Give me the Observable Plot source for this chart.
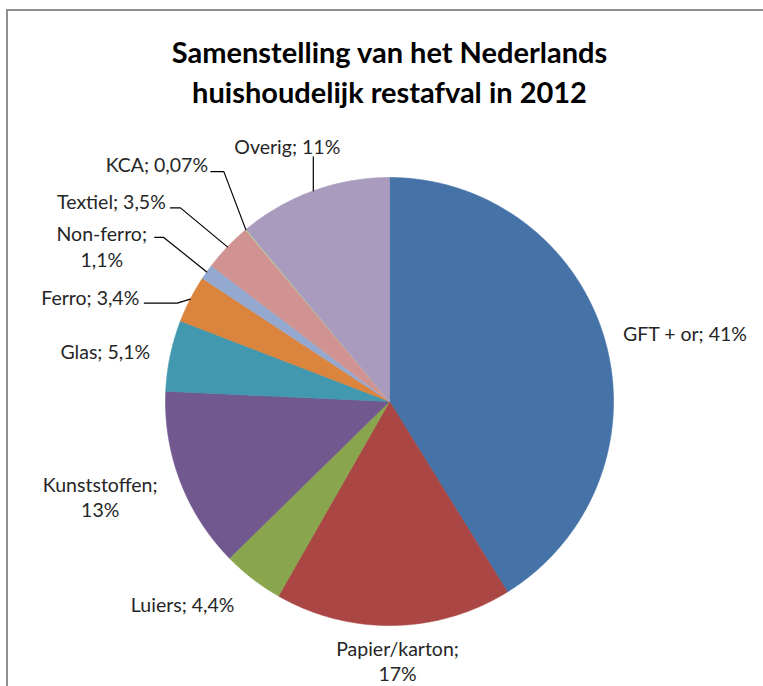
<!DOCTYPE html>
<html>
<head>
<meta charset="utf-8">
<script src="https://cdn.jsdelivr.net/npm/d3@7"></script>
<script src="https://cdn.jsdelivr.net/npm/@observablehq/plot@0.6"></script>
<style>
  html, body { margin: 0; padding: 0; background: #fff; }
  #wrap { position: relative; width: 763px; height: 686px; overflow: hidden; }
  #border { position: absolute; left: 6px; top: 9px; right: -10px; bottom: -10px;
            border-top: 2px solid #8f8f8f; border-left: 2px solid #8f8f8f; }
  #chart { position: absolute; left: 0; top: 0; }
</style>
</head>
<body>
<div id="wrap"><div id="border"></div><div id="chart"></div></div>
<script>
// ---- data ----
const categories = ["GFT + or", "Papier/karton", "Luiers", "Kunststoffen", "Glas", "Ferro", "Non-ferro", "Textiel", "KCA", "Overig"];
const values = [41, 17, 4.4, 13, 5.1, 3.4, 1.1, 3.5, 0.07, 11];
const labelTexts = ["GFT + or; 41%", "Papier/karton;\n17%", "Luiers; 4,4%", "Kunststoffen;\n13%", "Glas; 5,1%", "Ferro; 3,4%", "Non-ferro;\n1,1%", "Textiel; 3,5%", "KCA; 0,07%", "Overig; 11%"];
const titleText = "Samenstelling van het Nederlands\nhuishoudelijk restafval in 2012";

// ---- style / layout ----
const colors = ["#4572A7", "#AA4643", "#89A54E", "#71588F", "#4198AF", "#DB843D", "#93A9CF", "#D19392", "#B9CD96", "#A99BBD"];
const W = 763, H = 686, CX = 389, CY = 401, R = 224;
// label centre offset (px) from the slice's rim midpoint
const labelOffsets = [[80, -7], [4, 35], [-70, 25], [-80, 15], [-65, -5], [-100, -2], [-105, -26], [-116, -46], [-89, -66], [-26, -45]];
// leader line: [end, elbow] offsets (px) from the label centre
const leaderOffsets = {
  "Ferro": [[54, 6], [87, 6]],
  "Non-ferro": [[53, -8.5], [62, -8.5]],
  "Textiel": [[59, 7], [69, 7]],
  "KCA": [[54, 8], [67, 8]],
  "Overig": [[26, 11], [26, 11]]
};

const k = 1 / R; // px -> data units
const arcs = d3.pie().sort(null).value(d => d)(values);

const slices = [];
arcs.forEach((a, i) => {
  const name = categories[i];
  slices.push({name, x: 0, y: 0});
  const n = Math.max(2, Math.ceil((a.endAngle - a.startAngle) / (Math.PI / 360)));
  for (let j = 0; j <= n; j++) {
    const t = a.startAngle + (a.endAngle - a.startAngle) * j / n;
    slices.push({name, x: Math.sin(t), y: Math.cos(t)});
  }
  slices.push({name, x: 0, y: 0});
});

const labels = arcs.map((a, i) => {
  const m = (a.startAngle + a.endAngle) / 2;
  const [dx, dy] = labelOffsets[i];
  return {name: categories[i], text: labelTexts[i], rx: Math.sin(m), ry: Math.cos(m),
          x: Math.sin(m) + dx * k, y: Math.cos(m) - dy * k};
});

const leaders = [];
labels.forEach(l => {
  const off = leaderOffsets[l.name];
  if (!off) return;
  leaders.push({name: l.name, x: l.x + off[0][0] * k, y: l.y - off[0][1] * k});
  leaders.push({name: l.name, x: l.x + off[1][0] * k, y: l.y - off[1][1] * k});
  leaders.push({name: l.name, x: l.rx, y: l.ry});
});

const chart = Plot.plot({
  width: W,
  height: H,
  marginLeft: 15, marginRight: 0, marginTop: 0, marginBottom: 0,
  x: {domain: [-1, 1], range: [CX - R, CX + R], axis: null},
  y: {domain: [-1, 1], range: [CY + R, CY - R], axis: null},
  color: {domain: categories, range: colors},
  style: {fontFamily: "Lato, sans-serif", background: "transparent"},
  marks: [
    Plot.line(slices, {x: "x", y: "y", z: "name", fill: "name", stroke: "name", strokeWidth: 0.6, curve: "linear"}),
    Plot.line(leaders, {x: "x", y: "y", z: "name", stroke: "#000", strokeWidth: 1.2, curve: "linear"}),
    Plot.text(labels, {x: "x", y: "y", text: "text", fontSize: 19.5, fill: "#262626", lineHeight: 1.3}),
    Plot.text([titleText], {frameAnchor: "top", dy: 70, lineAnchor: "middle", text: d => d, fontSize: 29, fontWeight: "bold", fill: "#000", lineHeight: 1.38})
  ]
});
document.getElementById("chart").appendChild(chart);
</script>
</body>
</html>
